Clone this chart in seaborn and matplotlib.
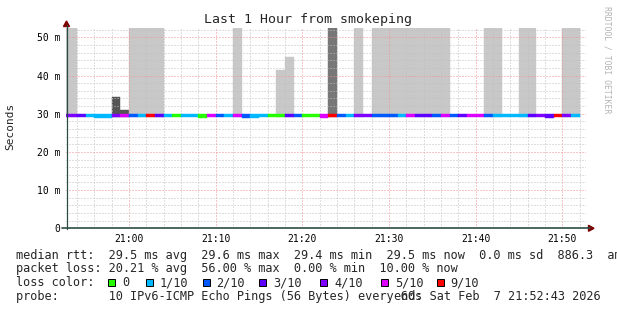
import numpy as np
import matplotlib
matplotlib.use("Agg")
import matplotlib.pyplot as plt
import seaborn as sns
from matplotlib.patches import Rectangle, Polygon

# ---------------- data ----------------
# one bin per minute, start minute relative to 21:00 (20:52 ... 21:51)
bin_start = list(range(-8, 52))
loss_tenths = [4, 4, 3, 1, 1, 1, 4, 5, 2, 1, 5.6, 3, 1, 0, 1, 1, 0, 5, 2, 1,
               5, 2, 1, 1, 0, 0, 3, 2, 0, 0, 5, 5.6, 2, 1, 4, 4, 2, 2, 2, 1,
               5, 3, 3, 2, 5, 2, 3, 5, 5, 2, 1, 1, 1, 1, 3, 4, 3, 5.3, 4, 1]
median_ms = [29.5, 29.5, 29.5, 29.5, 29.4, 29.4, 29.5, 29.5, 29.5, 29.5,
             29.5, 29.5, 29.5, 29.5, 29.5, 29.5, 29.4, 29.5, 29.5, 29.5,
             29.5, 29.4, 29.4, 29.5, 29.5, 29.5, 29.5, 29.5, 29.5, 29.5,
             29.4, 29.5, 29.5, 29.5, 29.5, 29.5, 29.5, 29.5, 29.5, 29.5,
             29.5, 29.5, 29.5, 29.5, 29.5, 29.5, 29.5, 29.5, 29.5, 29.5,
             29.5, 29.5, 29.5, 29.5, 29.5, 29.5, 29.4, 29.5, 29.5, 29.5]
nan = np.nan
smoke_top_ms = [60, 60, nan, nan, nan, nan, 34.3, 30.9, 60, 60,
                60, 60, nan, nan, nan, nan, nan, nan, nan, nan,
                60, nan, nan, nan, nan, 41.4, 44.8, nan, nan, nan,
                nan, 60, nan, nan, 60, nan, 60, 60, 60, 60,
                60, 60, 60, 60, 60, nan, nan, nan, nan, 60,
                60, nan, nan, 60, 60, nan, nan, nan, 60, 60]
smoke_density = ["light", "light", "", "", "", "", "dense", "dense", "light", "light",
                 "light", "light", "", "", "", "", "", "", "", "",
                 "light", "", "", "", "", "light", "light", "", "", "",
                 "", "medium", "", "", "light", "", "light", "light", "light", "light",
                 "light", "light", "light", "light", "light", "", "", "", "", "light",
                 "light", "", "", "light", "light", "", "", "", "light", "light"]

loss_keys = [0, 1, 2, 3, 4, 5, 9]
loss_labels = ["0", "1/10", "2/10", "3/10", "4/10", "5/10", "9/10"]
loss_colors = ["#26ff00", "#00b8ff", "#0059ff", "#5e00ff", "#7e00ff", "#dd00ff", "#ff0000"]

x_ticks = [0, 10, 20, 30, 40, 50]
x_ticklabels = ["21:00", "21:10", "21:20", "21:30", "21:40", "21:50"]
y_ticks = [0, 10, 20, 30, 40, 50]
y_ticklabels = ["0", "10 m", "20 m", "30 m", "40 m", "50 m"]

title = "Last 1 Hour from smokeping"
legend_lines = [
    "median rtt:  29.5 ms avg  29.6 ms max  29.4 ms min  29.5 ms now  0.0 ms sd  886.3  am/s",
    "packet loss: 20.21 % avg  56.00 % max  0.00 % min  10.00 % now",
]
probe_text = "probe:       10 IPv6-ICMP Echo Pings (56 Bytes) every 60s"
end_text = "end: Sat Feb  7 21:52:43 2026"

# ---------------- style ----------------
sns.set_theme(style="white")
plt.rcParams["font.family"] = ["DejaVu Sans Mono", "DejaVu Sans"]
W, H = 617, 310
fig = plt.figure(figsize=(W / 100, H / 100), dpi=100)
fig.patch.set_facecolor("white")
x0, x1, y0, y1 = 66, 586, 28.3, 228.3
ax = fig.add_axes([x0 / W, (H - y1) / H, (x1 - x0) / W, (y1 - y0) / H])
ax.set_facecolor("white")

def loss_color(v):
    for k, c in zip(loss_keys, loss_colors):
        if v <= k:
            return c
    return loss_colors[-1]

shade_map = {"light": "#c8c8c8", "medium": "#777777", "dense": "#555555"}
smoke_base = 29.2
for xs, top, dens in zip(bin_start, smoke_top_ms, smoke_density):
    if dens and not np.isnan(top):
        c = shade_map[dens]
        ax.bar(xs, top - smoke_base, bottom=smoke_base, width=1, align="edge",
               color=c, edgecolor=c, linewidth=0.3, zorder=1)

half = 0.4
cols = [loss_color(v) for v in loss_tenths]
ax.bar(bin_start, [2 * half] * len(bin_start), bottom=np.array(median_ms) - half,
       width=1, align="edge", color=cols, edgecolor=cols, linewidth=0.3, zorder=3)

ax.set_xlim(-7.283, 52.717)
ax.set_ylim(0, 52.36)

ax.set_xticks(x_ticks)
ax.set_xticklabels(x_ticklabels)
ax.set_xticks(np.arange(-6, 53, 2), minor=True)
ax.set_yticks(y_ticks)
ax.set_yticklabels(y_ticklabels)
ax.set_yticks(np.arange(2, 53, 2), minor=True)
ax.tick_params(axis="both", which="both", length=0, labelsize=7, colors="black")
ax.tick_params(axis="x", pad=4.0)
ax.tick_params(axis="y", pad=4.3)

ax.set_axisbelow(False)
ax.grid(which="minor", color="#c0c0c0", linestyle=(0, (1, 2)), linewidth=0.72, zorder=2)
ax.grid(which="major", color="#f09090", linestyle=(0, (1, 2)), linewidth=0.72, zorder=2)
for s in ax.spines.values():
    s.set_visible(False)

# axes lines with arrows (figure pixel coords)
def px(x, y):
    return (x / W, (H - y) / H)

axis_col = "#2c4d43"
fig.add_artist(plt.Line2D([px(66.5, 0)[0], px(66.5, 0)[0]], [px(0, 229)[1], px(0, 25)[1]],
                          color=axis_col, lw=0.9, transform=fig.transFigure))
fig.add_artist(plt.Line2D([px(62, 0)[0], px(590, 0)[0]], [px(0, 228.3)[1], px(0, 228.3)[1]],
                          color=axis_col, lw=1.2, transform=fig.transFigure))
fig.add_artist(Polygon([px(63.5, 26.5), px(69.5, 26.5), px(66.5, 21)], closed=True,
                       color="#7f0000", transform=fig.transFigure))
fig.add_artist(Polygon([px(588.5, 225.3), px(588.5, 231.3), px(594, 228.3)], closed=True,
                       color="#7f0000", transform=fig.transFigure))

# texts
fig.text(307.5 / W, 1 - 20 / H, title, ha="center", va="center", fontsize=9.5)
fig.text(10.5 / W, 1 - 126 / H, "Seconds", ha="center", va="center", rotation=90, fontsize=8)
fig.text(606.5 / W, 1 - 60 / H, "RRDTOOL / TOBI OETIKER", ha="center", va="center",
         rotation=270, fontsize=5.9, color="#b4b4b4")

lfs = 8.55
lx = 15.6
baselines = [258.5, 272.3, 286.3, 300.0]
for txt, b in zip(legend_lines, baselines[:2]):
    fig.text(lx / W, 1 - b / H, txt, ha="left", va="baseline", fontsize=lfs)
fig.text(lx / W, 1 - baselines[2] / H, "loss color:", ha="left", va="baseline", fontsize=lfs)
box_x = [108, 145.7, 202.7, 259.3, 320, 381, 436.7]
txt_x = [122.5, 159.3, 216.5, 273, 334, 395, 450.5]
for bx, tx, lab, c in zip(box_x, txt_x, loss_labels, loss_colors):
    fig.add_artist(Rectangle(px(bx, 285.7), 7 / W, 7 / H, facecolor=c, edgecolor="black",
                             linewidth=0.7, transform=fig.transFigure))
    fig.text(tx / W, 1 - baselines[2] / H, lab, ha="left", va="baseline", fontsize=lfs)
fig.text(lx / W, 1 - baselines[3] / H, probe_text, ha="left", va="baseline", fontsize=lfs)
fig.text(600.5 / W, 1 - baselines[3] / H, end_text, ha="right", va="baseline", fontsize=lfs)

fig.savefig("out.png", dpi=100, facecolor="white")
